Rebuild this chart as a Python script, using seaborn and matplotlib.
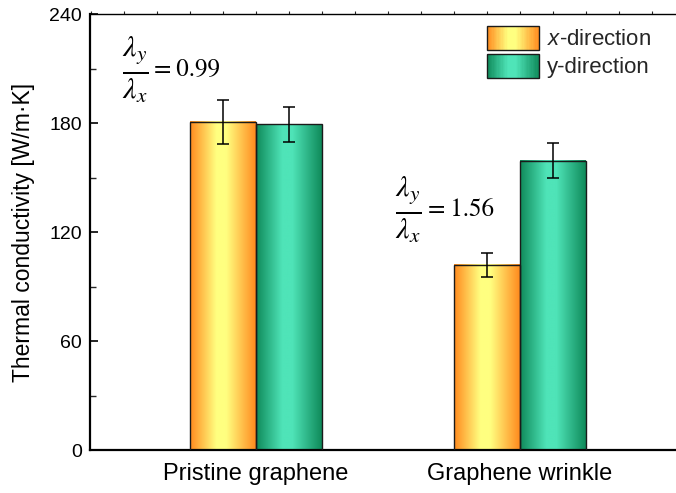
import numpy as np
import pandas as pd
import matplotlib
matplotlib.use('Agg')
import matplotlib.pyplot as plt
import seaborn as sns
from matplotlib.colors import LinearSegmentedColormap
from matplotlib.patches import Rectangle
from matplotlib.legend_handler import HandlerBase
from matplotlib.ticker import MultipleLocator

# ---- data ----
categories = ['Pristine graphene', 'Graphene wrinkle']
directions = ['x-direction', 'y-direction']
legend_labels = ['$x$-direction', 'y-direction']
x_values = [180.7, 102.0]
y_values = [179.3, 159.3]
x_errors = [12.0, 6.7]
y_errors = [9.5, 9.7]
ratio_labels = ['0.99', '1.56']
yticks = [0, 60, 120, 180, 240]

sns.set_theme(style='white')
plt.rcParams['font.family'] = ['Liberation Sans', 'DejaVu Sans']
plt.rcParams['mathtext.fontset'] = 'custom'
plt.rcParams['mathtext.rm'] = 'Liberation Sans'
plt.rcParams['mathtext.it'] = 'Liberation Sans:italic'

df = pd.DataFrame({
    'category': categories * 2,
    'direction': [directions[0]] * 2 + [directions[1]] * 2,
    'value': x_values + y_values,
})
errs = {directions[0]: x_errors, directions[1]: y_errors}

stops = [0.0, 0.4, 0.55, 1.0]
cmaps = {
    directions[0]: LinearSegmentedColormap.from_list(
        'orange', list(zip(stops, ['#FF8A1E', '#FFFF80', '#FFFF80', '#FF8A1E']))),
    directions[1]: LinearSegmentedColormap.from_list(
        'green', list(zip(stops, ['#0F8A5A', '#4FE4B8', '#4FE4B8', '#0F8A5A']))),
}

fig = plt.figure(figsize=(6.76, 4.93), dpi=100)
ax = fig.add_axes([0.1331, 0.0872, 0.8817, 0.8844])

sns.barplot(data=df, x='category', y='value', hue='direction', order=categories,
            hue_order=directions, width=0.5, palette=['#FFC850', '#3CC890'],
            edgecolor='#1a1a1a', linewidth=1.0, errorbar=None, legend=False, ax=ax)

grad = np.linspace(0, 1, 256)[None, :]
for cont, d in zip(ax.containers, directions):
    for bar, e in zip(cont, errs[d]):
        x0, w, h = bar.get_x(), bar.get_width(), bar.get_height()
        ax.imshow(grad, cmap=cmaps[d], extent=[x0, x0 + w, 0, h], aspect='auto',
                  origin='lower', zorder=2, interpolation='bilinear')
        bar.set_facecolor('none')
        bar.set_zorder(3)
        ax.errorbar(x0 + w / 2, h, yerr=e, fmt='none', ecolor='black',
                    elinewidth=1.1, capsize=4, capthick=1.1, zorder=4)

ax.set_xlim(-0.629, 1.629)
ax.set_ylim(0, 240)
ax.set_yticks(yticks)
ax.yaxis.set_minor_locator(MultipleLocator(30))
ax.xaxis.set_minor_locator(MultipleLocator(0.125))

ax.tick_params(axis='y', which='major', direction='in', length=6, width=1.2,
               labelsize=14, pad=6, left=True, colors='black')
ax.tick_params(axis='y', which='minor', direction='in', length=4, width=1.0, left=True)
ax.tick_params(axis='x', which='both', bottom=False, top=True, direction='out',
               length=2.5, width=0.8)
ax.tick_params(axis='x', which='major', labelsize=17, pad=7, labelcolor='black')

for s in ['left', 'bottom']:
    ax.spines[s].set_linewidth(1.6)
    ax.spines[s].set_color('black')
ax.spines['top'].set_linewidth(1.0)
ax.spines['top'].set_color('black')
ax.spines['right'].set_visible(False)

ax.set_xlabel('')
ax.set_ylabel('Thermal conductivity [W/m·K]', fontsize=16.5, labelpad=10, color='black')

# ratio annotations: large fraction + "= value"
frac = r'$\frac{\lambda_y}{\lambda_x}$'
for (fx, ex, yy), lab in zip([(-0.508, -0.385, 209.2), (0.526, 0.650, 132.1)], ratio_labels):
    ax.text(fx, yy, frac, math_fontfamily='stix', fontsize=31, ha='left',
            va='center', color='black')
    ax.text(ex, yy, '=\u2009' + lab, family=['STIXGeneral', 'DejaVu Serif'], fontsize=18,
            ha='left', va='center', color='black')


class GradHandler(HandlerBase):
    def __init__(self, cmap):
        super().__init__()
        self.cmap = cmap

    def create_artists(self, legend, orig_handle, xdescent, ydescent, width, height,
                       fontsize, trans):
        n = 40
        arts = []
        for i in range(n):
            arts.append(Rectangle((-xdescent + width * i / n, -ydescent), width / n * 1.05,
                                  height, facecolor=self.cmap((i + 0.5) / n),
                                  edgecolor='none', transform=trans))
        arts.append(Rectangle((-xdescent, -ydescent), width, height, facecolor='none',
                              edgecolor='#1a1a1a', lw=1.0, transform=trans))
        return arts


h1 = Rectangle((0, 0), 1, 1)
h2 = Rectangle((0, 0), 1, 1)
ax.legend([h1, h2], legend_labels,
          handler_map={h1: GradHandler(cmaps[directions[0]]), h2: GradHandler(cmaps[directions[1]])},
          loc='upper left', bbox_to_anchor=(487 / 676, 1 - 26 / 493),
          bbox_transform=fig.transFigure, frameon=False, fontsize=16,
          handlelength=2.35, handleheight=1.25, handletextpad=0.35,
          labelspacing=0.18, borderpad=0, borderaxespad=0)

fig.savefig('out.png', dpi=100)
